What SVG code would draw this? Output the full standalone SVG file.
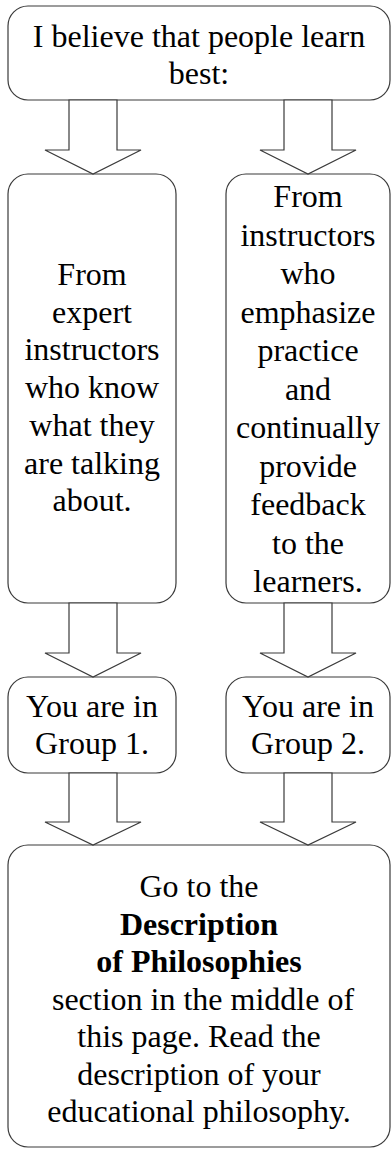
<svg xmlns="http://www.w3.org/2000/svg" width="391" height="1160" viewBox="0 0 391 1160">
<style>
.box{fill:#fff;stroke:#3a3a3a;stroke-width:1.2}
.arr{fill:#fff;stroke:#3a3a3a;stroke-width:1.2;stroke-linejoin:miter}
text{font-family:"Liberation Serif","Times New Roman",serif;font-size:32px;fill:#000;text-anchor:middle}
.b{font-weight:bold}
</style>
<rect width="391" height="1160" fill="#fff"/>
<g id="n-top">
<rect class="box" x="8" y="6" width="382" height="94" rx="20"/>
<text x="199" y="47">I believe that people learn</text>
<text x="199" y="84">best:</text>
</g>
<g id="n-expert">
<rect class="box" x="8" y="174" width="168" height="429" rx="20"/>
<text x="92" y="285">From</text>
<text x="92" y="322.7">expert</text>
<text x="92" y="360.4">instructors</text>
<text x="92" y="398">who know</text>
<text x="92" y="435.8">what they</text>
<text x="92" y="473.5">are talking</text>
<text x="92" y="511">about.</text>
</g>
<g id="n-practice">
<rect class="box" x="226" y="174" width="164" height="429" rx="20"/>
<text x="308" y="207">From</text>
<text x="308" y="245.5">instructors</text>
<text x="308" y="284">who</text>
<text x="308" y="322.5">emphasize</text>
<text x="308" y="361">practice</text>
<text x="308" y="399.5">and</text>
<text x="308" y="438">continually</text>
<text x="308" y="476.5">provide</text>
<text x="308" y="515">feedback</text>
<text x="308" y="553.5">to the</text>
<text x="308" y="592">learners.</text>
</g>
<g id="n-group1">
<rect class="box" x="8" y="677" width="168" height="96" rx="20"/>
<text x="92" y="717">You are in</text>
<text x="92" y="754">Group 1.</text>
</g>
<g id="n-group2">
<rect class="box" x="226" y="677" width="164" height="96" rx="20"/>
<text x="308" y="717">You are in</text>
<text x="308" y="754">Group 2.</text>
</g>
<g id="n-final">
<rect class="box" x="8" y="845" width="382" height="302" rx="20"/>
<text x="199" y="897">Go to the</text>
<text x="199" y="935" class="b">Description</text>
<text x="199" y="972" class="b">of Philosophies</text>
<text x="203" y="1010">section in the middle of</text>
<text x="199" y="1047">this page. Read the</text>
<text x="199" y="1085">description of your</text>
<text x="199" y="1122">educational philosophy.</text>
</g>
<g id="connectors">
<polygon class="arr" points="69,100 117,100 117,150 141,150 93,174 45,150 69,150"/>
<polygon class="arr" points="284,100 332,100 332,150 356,150 308,174 260,150 284,150"/>
<polygon class="arr" points="69,603 117,603 117,653 141,653 93,677 45,653 69,653"/>
<polygon class="arr" points="284,603 332,603 332,653 356,653 308,677 260,653 284,653"/>
<polygon class="arr" points="69,773 117,773 117,822 141,822 93,845 45,822 69,822"/>
<polygon class="arr" points="284,773 332,773 332,822 356,822 308,845 260,822 284,822"/>
</g>
</svg>
